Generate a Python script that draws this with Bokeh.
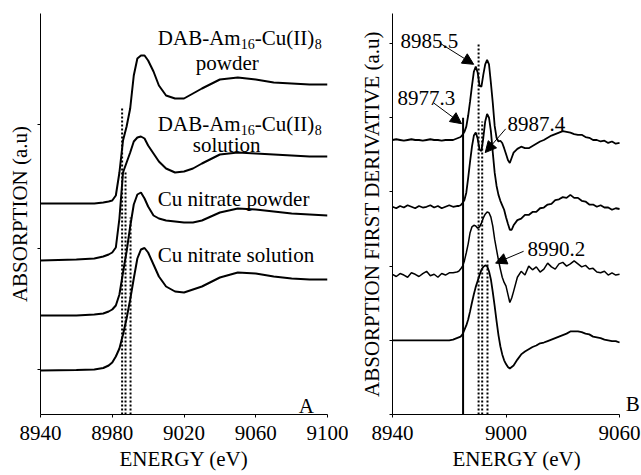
from bokeh.plotting import figure
from bokeh.layouts import row
from bokeh.models import Label, Arrow, NormalHead, FixedTicker, Range1d
from bokeh.embed import file_html
from bokeh.resources import INLINE

FONT = "Liberation Serif"

# ---------------- Panel A: Cu K-edge XANES (offset spectra) ----------------
energy_a = [8940, 8960, 8970, 8975, 8978, 8980, 8982, 8984, 8986, 8988,
            8990, 8992, 8994, 8996, 8998, 9000, 9003, 9006, 9010, 9015,
            9020, 9025, 9030, 9040, 9050, 9060, 9070, 9080, 9090, 9100]

dab_powder = [2.11, 2.11, 2.11, 2.12, 2.13, 2.14, 2.19, 2.42, 2.74, 2.88,
              3.06, 3.39, 3.56, 3.59, 3.59, 3.54, 3.43, 3.29, 3.19, 3.16,
              3.16, 3.21, 3.26, 3.35, 3.37, 3.35, 3.32, 3.31, 3.30, 3.30]
dab_solution = [1.54, 1.55, 1.56, 1.58, 1.60, 1.62, 1.67, 1.96, 2.42, 2.52,
                2.62, 2.73, 2.77, 2.78, 2.76, 2.69, 2.61, 2.53, 2.46, 2.42,
                2.43, 2.46, 2.51, 2.60, 2.62, 2.61, 2.60, 2.59, 2.58, 2.58]
nitrate_powder = [0.99, 0.99, 1.00, 1.01, 1.03, 1.05, 1.09, 1.20, 1.42, 1.63,
                  1.88, 2.10, 2.20, 2.22, 2.16, 2.08, 1.99, 1.96, 1.94, 1.93,
                  1.92, 1.92, 1.94, 2.02, 2.06, 2.05, 2.03, 2.01, 2.00, 1.99]
nitrate_solution = [0.44, 0.445, 0.45, 0.465, 0.49, 0.52, 0.58, 0.66, 0.80, 0.96,
                    1.15, 1.36, 1.56, 1.65, 1.665, 1.62, 1.50, 1.38, 1.28, 1.23,
                    1.22, 1.25, 1.28, 1.37, 1.42, 1.41, 1.38, 1.36, 1.35, 1.35]

# reference energies (eV) marked in both panels
edge_energy = 8977.3
peak_energies = [8985.5, 8987.4, 8990.2]
peak_tops_a = [3.08, 2.44, 1.97]
peak_tops_b = [5.0, 3.95, 2.1]
edge_top_b = 4.0

# ---------------- Panel B: first derivative spectra ----------------
energy_b = [8940, 8942, 8944, 8946, 8948, 8950, 8952, 8954, 8956, 8958,
            8960, 8962, 8964, 8966, 8968, 8970, 8972, 8974,
            8975, 8976, 8977, 8978, 8979, 8980, 8981, 8982, 8983, 8984,
            8985, 8986, 8987, 8988, 8989, 8990, 8991, 8992, 8993, 8994,
            8995, 8996, 8997, 8998, 8999, 9000, 9001, 9002, 9003, 9004,
            9006, 9008, 9010, 9012, 9014, 9016, 9018, 9020, 9022, 9024,
            9026, 9028, 9030, 9032, 9034, 9036, 9038, 9040, 9042, 9044,
            9046, 9048, 9050, 9052, 9054, 9056, 9058, 9060]

d_dab_powder = [3.70, 3.71, 3.70, 3.69, 3.70, 3.71, 3.70, 3.70, 3.69, 3.70,
                3.71, 3.70, 3.70, 3.69, 3.70, 3.70, 3.70, 3.72,
                3.73, 3.74, 3.77, 3.81, 3.88, 4.03, 4.22, 4.43, 4.62, 4.69,
                4.61, 4.43, 4.42, 4.58, 4.72, 4.78, 4.72, 4.47, 4.20, 3.89,
                3.73, 3.68, 3.69, 3.66, 3.59, 3.51, 3.43, 3.39, 3.46, 3.53,
                3.58, 3.61, 3.59, 3.59, 3.62, 3.65, 3.68, 3.70, 3.73, 3.76,
                3.78, 3.80, 3.82, 3.81, 3.80, 3.78, 3.77, 3.77, 3.74, 3.73,
                3.70, 3.70, 3.68, 3.69, 3.66, 3.68, 3.65, 3.66]
d_dab_solution = [2.80, 2.78, 2.81, 2.79, 2.82, 2.80, 2.78, 2.81, 2.79, 2.80,
                  2.82, 2.79, 2.81, 2.78, 2.80, 2.82, 2.80, 2.81,
                  2.81, 2.82, 2.85, 2.89, 2.99, 3.19, 3.41, 3.61, 3.76, 3.80,
                  3.72, 3.57, 3.55, 3.73, 3.95, 4.05, 4.00, 3.82, 3.53, 3.26,
                  3.08, 2.96, 2.88, 2.82, 2.76, 2.66, 2.57, 2.49, 2.49, 2.55,
                  2.62, 2.64, 2.69, 2.69, 2.73, 2.73, 2.78, 2.79, 2.83, 2.84,
                  2.89, 2.90, 2.93, 2.92, 2.96, 2.92, 2.92, 2.88, 2.87, 2.83,
                  2.83, 2.80, 2.82, 2.79, 2.79, 2.76, 2.78, 2.77]
d_nitrate_powder = [1.89, 1.86, 1.90, 1.88, 1.85, 1.91, 1.89, 1.86, 1.90, 1.93,
                    1.87, 1.89, 1.85, 1.90, 1.88, 1.91, 1.91, 1.92,
                    1.93, 1.96, 2.00, 2.07, 2.18, 2.30, 2.45, 2.53, 2.55, 2.54,
                    2.51, 2.53, 2.58, 2.65, 2.70, 2.73, 2.72, 2.66, 2.54, 2.36,
                    2.22, 2.08, 1.96, 1.85, 1.78, 1.73, 1.62, 1.51, 1.57, 1.66,
                    1.85, 1.93, 1.88, 2.00, 1.95, 1.99, 1.92, 1.96, 2.04, 1.99,
                    1.96, 2.03, 2.05, 2.00, 2.03, 2.07, 2.03, 1.99, 2.01, 1.96,
                    1.97, 1.92, 1.91, 1.93, 1.88, 1.91, 1.88, 1.89]
d_nitrate_solution = [1.00, 1.00, 1.00, 1.00, 1.00, 1.00, 1.00, 1.00, 1.00, 1.00,
                      1.00, 1.00, 1.00, 1.00, 1.00, 1.00, 1.01, 1.03,
                      1.04, 1.05, 1.08, 1.14, 1.20, 1.28, 1.39, 1.51, 1.62, 1.72,
                      1.80, 1.88, 1.95, 1.99, 2.01, 2.00, 1.93, 1.82, 1.65, 1.46,
                      1.26, 1.07, 0.92, 0.81, 0.73, 0.68, 0.64, 0.62, 0.64, 0.66,
                      0.74, 0.81, 0.85, 0.88, 0.91, 0.93, 0.96, 0.97, 0.99, 1.01,
                      1.03, 1.05, 1.07, 1.09, 1.12, 1.12, 1.12, 1.11, 1.09, 1.08,
                      1.05, 1.04, 1.03, 1.01, 1.00, 0.99, 0.99, 0.97]

ticks_x_a = [8940, 8980, 9020, 9060, 9100]
ticks_x_b = [8940, 9000, 9060]
ticks_y_a = [0.45, 1.66, 2.90]
ticks_y_b = [0, 1, 2, 3, 4, 5]


def style(p, xticks, yticks, ylabel):
    p.xgrid.visible = False
    p.ygrid.visible = False
    p.outline_line_color = None
    p.background_fill_color = "white"
    p.border_fill_color = "white"
    p.xaxis.ticker = FixedTicker(ticks=xticks)
    p.yaxis.ticker = FixedTicker(ticks=yticks)
    p.xaxis.bounds = (xticks[0], xticks[-1])
    for ax in (p.xaxis[0], p.yaxis[0]):
        ax.axis_line_color = "black"
        ax.axis_line_width = 1
        ax.major_tick_in = 0
        ax.major_tick_out = 3
        ax.major_tick_line_color = "black"
        ax.minor_tick_line_color = None
        ax.major_label_text_font = FONT
        ax.major_label_text_color = "black"
        ax.axis_label_text_font = FONT
        ax.axis_label_text_font_size = "21px"
        ax.axis_label_text_font_style = "normal"
        ax.axis_label_text_color = "black"
    p.xaxis.major_label_text_font_size = "21px"
    p.xaxis.major_label_standoff = 8
    p.xaxis.axis_label = "ENERGY (eV)"
    p.xaxis.axis_label_standoff = 4
    # the intensity axis is unitless: ticks only, no numbers
    p.yaxis.major_label_overrides = {t: "" for t in yticks}
    p.yaxis.major_label_text_color = None
    p.yaxis.major_label_standoff = 0
    p.yaxis.axis_label = ylabel
    p.yaxis.axis_label_standoff = 6


def text(p, x, y, s, size=21, dx=0, dy=0):
    p.add_layout(Label(x=x, y=y, text=s, text_font=FONT,
                       text_font_size=f"{size}px", text_color="black",
                       text_baseline="alphabetic", x_offset=dx, y_offset=dy))


def dab_text(p, x, y):
    # DAB-Am16-Cu(II)8 with subscripted counts
    text(p, x, y, "DAB-Am")
    text(p, x, y, "16", size=14, dx=83, dy=-6)
    text(p, x, y, "-Cu(II)", dx=97)
    text(p, x, y, "8", size=14, dx=157, dy=-6)


def arrow(p, x0, y0, x1, y1):
    p.add_layout(Arrow(end=NormalHead(size=11, fill_color="black", line_color="black"),
                       x_start=x0, y_start=y0, x_end=x1, y_end=y1,
                       line_color="black", line_width=1))


# ---- panel A ----
pa = figure(width=348, height=475, output_backend="svg", toolbar_location=None,
            x_range=Range1d(8940, 9100), y_range=Range1d(0, 4.01),
            min_border_left=40, min_border_right=21, min_border_top=13,
            min_border_bottom=61)
style(pa, ticks_x_a, ticks_y_a, "ABSORPTION (a.u)")

for series in (dab_powder, dab_solution, nitrate_powder, nitrate_solution):
    pa.line(energy_a, series, line_color="black", line_width=2)

pa.segment(x0=peak_energies, y0=[0] * 3, x1=peak_energies, y1=peak_tops_a,
           line_color="black", line_width=2, line_dash="2 2")

dab_text(pa, 9005.4, 3.77)
text(pa, 9026.6, 3.52, "powder")
dab_text(pa, 9005.4, 2.91)
text(pa, 9024.9, 2.70, "solution")
text(pa, 9005.4, 2.16, "Cu nitrate powder")
text(pa, 9005.4, 1.60, "Cu nitrate solution")
text(pa, 9084, 0.09, "A")

# ---- panel B ----
# the frame runs past 9060 so the panel letter sits inside it; the axis
# line itself stops at 9060 through its bounds
pb = figure(width=293, height=475, output_backend="svg", toolbar_location=None,
            x_range=Range1d(8940, 9071.6), y_range=Range1d(0, 5.405),
            min_border_left=44, min_border_right=0, min_border_top=13,
            min_border_bottom=61)
style(pb, ticks_x_b, ticks_y_b, "ABSORPTION FIRST DERIVATIVE (a.u)")

pb.line(energy_b, d_dab_powder, line_color="black", line_width=1.8)
pb.line(energy_b, d_dab_solution, line_color="black", line_width=1.8)
pb.line(energy_b, d_nitrate_powder, line_color="black", line_width=1.5)
pb.line(energy_b, d_nitrate_solution, line_color="black", line_width=1.8)

pb.segment(x0=[edge_energy], y0=[0], x1=[edge_energy], y1=[edge_top_b],
           line_color="black", line_width=2)
pb.segment(x0=peak_energies, y0=[0] * 3, x1=peak_energies, y1=peak_tops_b,
           line_color="black", line_width=2, line_dash="2 2")

text(pb, 8944.2, 5.04, "8985.5")
arrow(pb, 8965.4, 5.0, 8982.9, 4.72)
text(pb, 8942.6, 4.26, "8977.3")
arrow(pb, 8961.7, 4.20, 8976.5, 3.92)
text(pb, 9000.8, 3.92, "8987.4")
arrow(pb, 8999.8, 3.85, 8989.0, 3.53)
text(pb, 9011.4, 2.23, "8990.2")
arrow(pb, 9009.3, 2.20, 8994.5, 2.04)
text(pb, 9063.3, 0.135, "B")

layout = row(pa, pb)
open("out.html", "w").write(file_html(layout, INLINE))
